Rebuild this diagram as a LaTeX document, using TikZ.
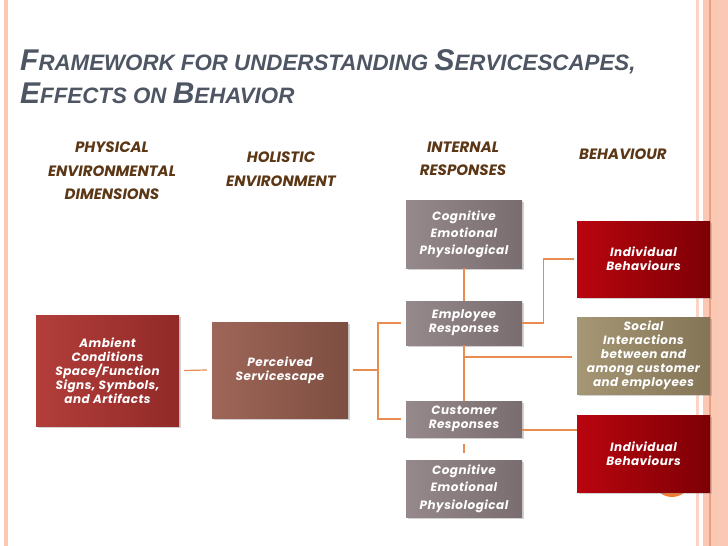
\documentclass[tikz,border=0pt]{standalone}
\usepackage{fontspec}
\setmainfont{Liberation Sans}
\newfontfamily\gothic[LetterSpace=4]{Poppins}
\newfontfamily\hdfont{Poppins}
\usepackage{tikz}
\usetikzlibrary{positioning, calc, shadows}
\definecolor{ttlgray}{RGB}{78,86,100}
\definecolor{hdbrown}{RGB}{92,55,22}
\definecolor{lnorange}{RGB}{232,140,80}
\definecolor{ambL}{RGB}{178,62,58}
\definecolor{ambR}{RGB}{145,42,40}
\definecolor{perL}{RGB}{158,102,88}
\definecolor{perR}{RGB}{125,78,65}
\definecolor{gryL}{RGB}{150,137,140}
\definecolor{gryR}{RGB}{122,109,112}
\definecolor{indL}{RGB}{185,5,15}
\definecolor{indR}{RGB}{125,0,5}
\definecolor{socL}{RGB}{165,150,116}
\definecolor{socR}{RGB}{132,117,87}
\definecolor{peach}{RGB}{252,200,182}
\definecolor{peachdk}{RGB}{235,160,125}
\definecolor{slnum}{RGB}{240,125,50}
\newcommand{\bigc}[1]{{\fontsize{30}{33}\selectfont #1}}

\begin{document}
\begin{tikzpicture}[x=1pt, y=-1pt,
  bx/.style={rectangle, minimum width=116pt, align=center, text=white,
    font=\gothic\bfseries\itshape\fontsize{12}{14}\selectfont, inner sep=2pt,
    drop shadow={shadow xshift=1.5pt, shadow yshift=-2pt, opacity=.35}},
  ambbx/.style={bx, left color=ambL, right color=ambR},
  perbx/.style={bx, left color=perL, right color=perR},
  grybx/.style={bx, left color=gryL, right color=gryR},
  indbx/.style={bx, minimum width=133pt, minimum height=76pt, left color=indL, right color=indR},
  socbx/.style={bx, minimum width=133pt, minimum height=77pt, left color=socL, right color=socR},
  hd/.style={font=\hdfont\bfseries\itshape\fontsize{15}{23.5}\selectfont, text=hdbrown, align=center},
  ln/.style={lnorange, line width=1.2pt},
]
  % slide frame
  \fill[white] (0,0) rectangle (728,546);
  \useasboundingbox (0,0) rectangle (728,546);
  \fill[peach] (4,0) rectangle (8,546);
  \fill[peach!80] (696,0) rectangle (699,546);
  \fill[peach] (703,0) rectangle (728,546);
  \draw[peachdk, line width=1.5pt] (710,0) -- (710,546);
  \draw[peachdk!60, line width=1pt] (716,0) -- (716,546);
  \fill[slnum] (672,478) circle (19);

  % title
  \node[anchor=north west, align=left, text=ttlgray, inner sep=0pt,
    font=\bfseries\itshape\fontsize{22.3}{33}\selectfont] (ttl) at (20,49)
    {\bigc{F}RAMEWORK FOR UNDERSTANDING \bigc{S}ERVICESCAPES,\\ \bigc{E}FFECTS ON \bigc{B}EHAVIOR};

  % column heads
  \node[hd] (hphys) at (112,171) {PHYSICAL\\ENVIRONMENTAL\\DIMENSIONS};
  \node[hd] (hhol) at (281,169) {HOLISTIC\\ENVIRONMENT};
  \node[hd] (hint) at (463,159) {INTERNAL\\RESPONSES};
  \node[hd] (hbeh) at (623,154) {BEHAVIOUR};

  % boxes
  \node[ambbx, minimum width=143pt, minimum height=111pt] (amb) at (107.5,370.5)
    {Ambient\\Conditions\\Space/Function\\Signs, Symbols,\\and Artifacts};
  \node[perbx, minimum width=136pt, minimum height=96pt] (per) at (280,370)
    {Perceived\\Servicescape};
  \node[grybx, minimum height=68pt, font=\gothic\bfseries\itshape\fontsize{12}{17}\selectfont] (cogA) at (464,234)
    {Cognitive\\Emotional\\Physiological};
  \node[grybx, minimum height=44pt] (emp) at (464,323) {Employee\\Responses};
  \node[grybx, minimum height=36pt] (cus) at (464,419) {Customer\\Responses};
  \node[grybx, minimum height=57pt, font=\gothic\bfseries\itshape\fontsize{12}{17.5}\selectfont] (cogB) at (464,488.5)
    {Cognitive\\Emotional\\Physiological};
  \node[indbx] (indA) at (643.5,259) {Individual\\Behaviours};
  \node[socbx] (soc) at (643.5,355.5)
    {Social\\Interactions\\between and\\among customer\\and employees};
  \node[indbx, minimum height=77pt] (indB) at (643.5,453.5) {Individual\\Behaviours};

  % environment to responses
  \coordinate (brk) at (378,370);
  \draw[ln] ([xshift=5pt]amb.east) -- ([xshift=-5pt]per.west);
  \draw[ln] ([xshift=5pt]per.east) -- (brk);
  \draw[ln] ([xshift=-5pt]emp.west) -| (brk) |- ([xshift=-5pt]cus.west);

  % internal responses
  \draw[ln] (cogA.south) -- (emp.north);
  \draw[ln] (emp.south) -- (cus.north);
  \draw[ln] ([yshift=-7pt]cus.south) -- ([yshift=7pt]cogB.north);

  % behaviours
  \draw[ln] (emp.east) -- ++(21,0) |- ([xshift=-3pt]indA.west);
  \coordinate (soco) at ([yshift=-1.5pt]soc.west);
  \draw[ln] (emp.south |- soco) -- ([xshift=-5pt]soco);
  \coordinate (cuso) at ([yshift=-11pt]cus.east);
  \draw[ln] (cuso) -- (cuso -| indB.west);
\end{tikzpicture}
\end{document}
